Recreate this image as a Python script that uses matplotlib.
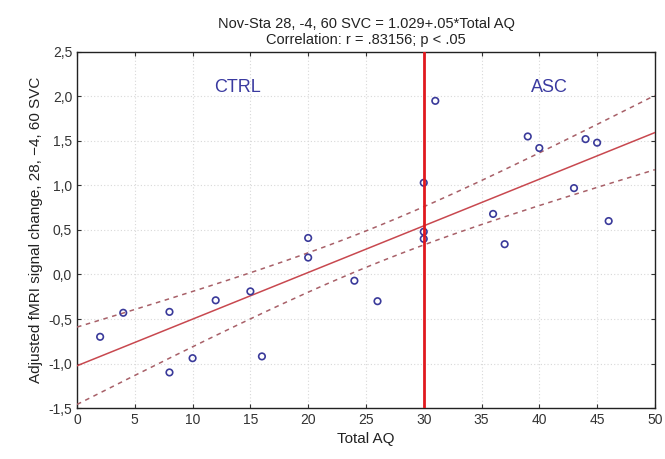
import numpy as np
import matplotlib
matplotlib.use("Agg")
import matplotlib.pyplot as plt
from matplotlib.ticker import FuncFormatter
from matplotlib import font_manager

aq = [2, 4, 8, 8, 10, 12, 15, 16, 20, 20, 24, 26, 30, 30, 30, 31, 36, 37, 39, 40, 43, 44, 45, 46]
signal = [-0.70, -0.43, -0.42, -1.10, -0.94, -0.29, -0.19, -0.92, 0.41, 0.19, -0.07, -0.30,
          1.03, 0.48, 0.40, 1.95, 0.68, 0.34, 1.55, 1.42, 0.97, 1.52, 1.48, 0.60]
cutoff = 30
group_labels = ["CTRL", "ASC"]
group_label_x = [13.9, 40.9]
xticks = list(range(0, 51, 5))
yticks = [-1.5, -1.0, -0.5, 0.0, 0.5, 1.0, 1.5, 2.0, 2.5]

names = {f.name for f in font_manager.fontManager.ttflist}
fam = "Liberation Sans Narrow" if "Liberation Sans Narrow" in names else "Liberation Sans"
plt.rcParams['font.family'] = [fam, 'DejaVu Sans']

fig = plt.figure(figsize=(6.65, 4.59), dpi=100)
ax = fig.add_axes([0.1158, 0.111, 0.869, 0.776])

x = np.array(aq, float)
y = np.array(signal, float)
n = len(x)
b, a = np.polyfit(x, y, 1)
xs = np.linspace(0, 50, 200)
yh = a + b * xs
resid = y - (a + b * x)
s = np.sqrt(np.sum(resid**2) / (n - 2))
se = s * np.sqrt(1 / n + (xs - x.mean())**2 / np.sum((x - x.mean())**2))
t = 2.0
ax.plot(xs, yh, color='#c8484f', lw=1.1, zorder=3)
ax.plot(xs, yh + t * se, color='#a86068', lw=1.1, ls=(0, (3, 3)), zorder=3)
ax.plot(xs, yh - t * se, color='#a86068', lw=1.1, ls=(0, (3, 3)), zorder=3)

ax.scatter(x, y, s=22, facecolors='none', edgecolors='#3a3a9a', linewidths=1.2, zorder=4)
ax.axvline(cutoff, color='#e0191e', lw=2.0, zorder=5)

for lab, lx in zip(group_labels, group_label_x):
    ax.text(lx, 2.1, lab, color='#3a3aa0', fontsize=13, ha='center', va='center')

ax.set_xlim(0, 50)
ax.set_ylim(-1.5, 2.5)
ax.set_xticks(xticks)
ax.set_yticks(yticks)
ax.yaxis.set_major_formatter(FuncFormatter(lambda v, p: f"{v:.1f}".replace('.', ',')))
ax.grid(True, color='#d8d8d8', ls=(0, (1, 2)), lw=0.8)
ax.tick_params(axis='both', labelsize=10, length=3, width=0.8, colors='#333333')
ax.tick_params(axis='x', direction='in', top=True)
ax.tick_params(axis='y', direction='in', right=True)
for sp in ax.spines.values():
    sp.set_color('#222222')
    sp.set_linewidth(1.0)

ax.set_xlabel("Total AQ", fontsize=11, color='#222222')
ax.set_ylabel("Adjusted fMRI signal change, 28, \u22124, 60 SVC", fontsize=11, color='#222222')
ax.set_title("Nov-Sta 28, -4, 60 SVC = 1.029+.05*Total AQ\nCorrelation: r = .83156; p < .05",
             fontsize=10.5, color='#222222', pad=6, linespacing=1.1)

fig.savefig("out.png", dpi=100)
